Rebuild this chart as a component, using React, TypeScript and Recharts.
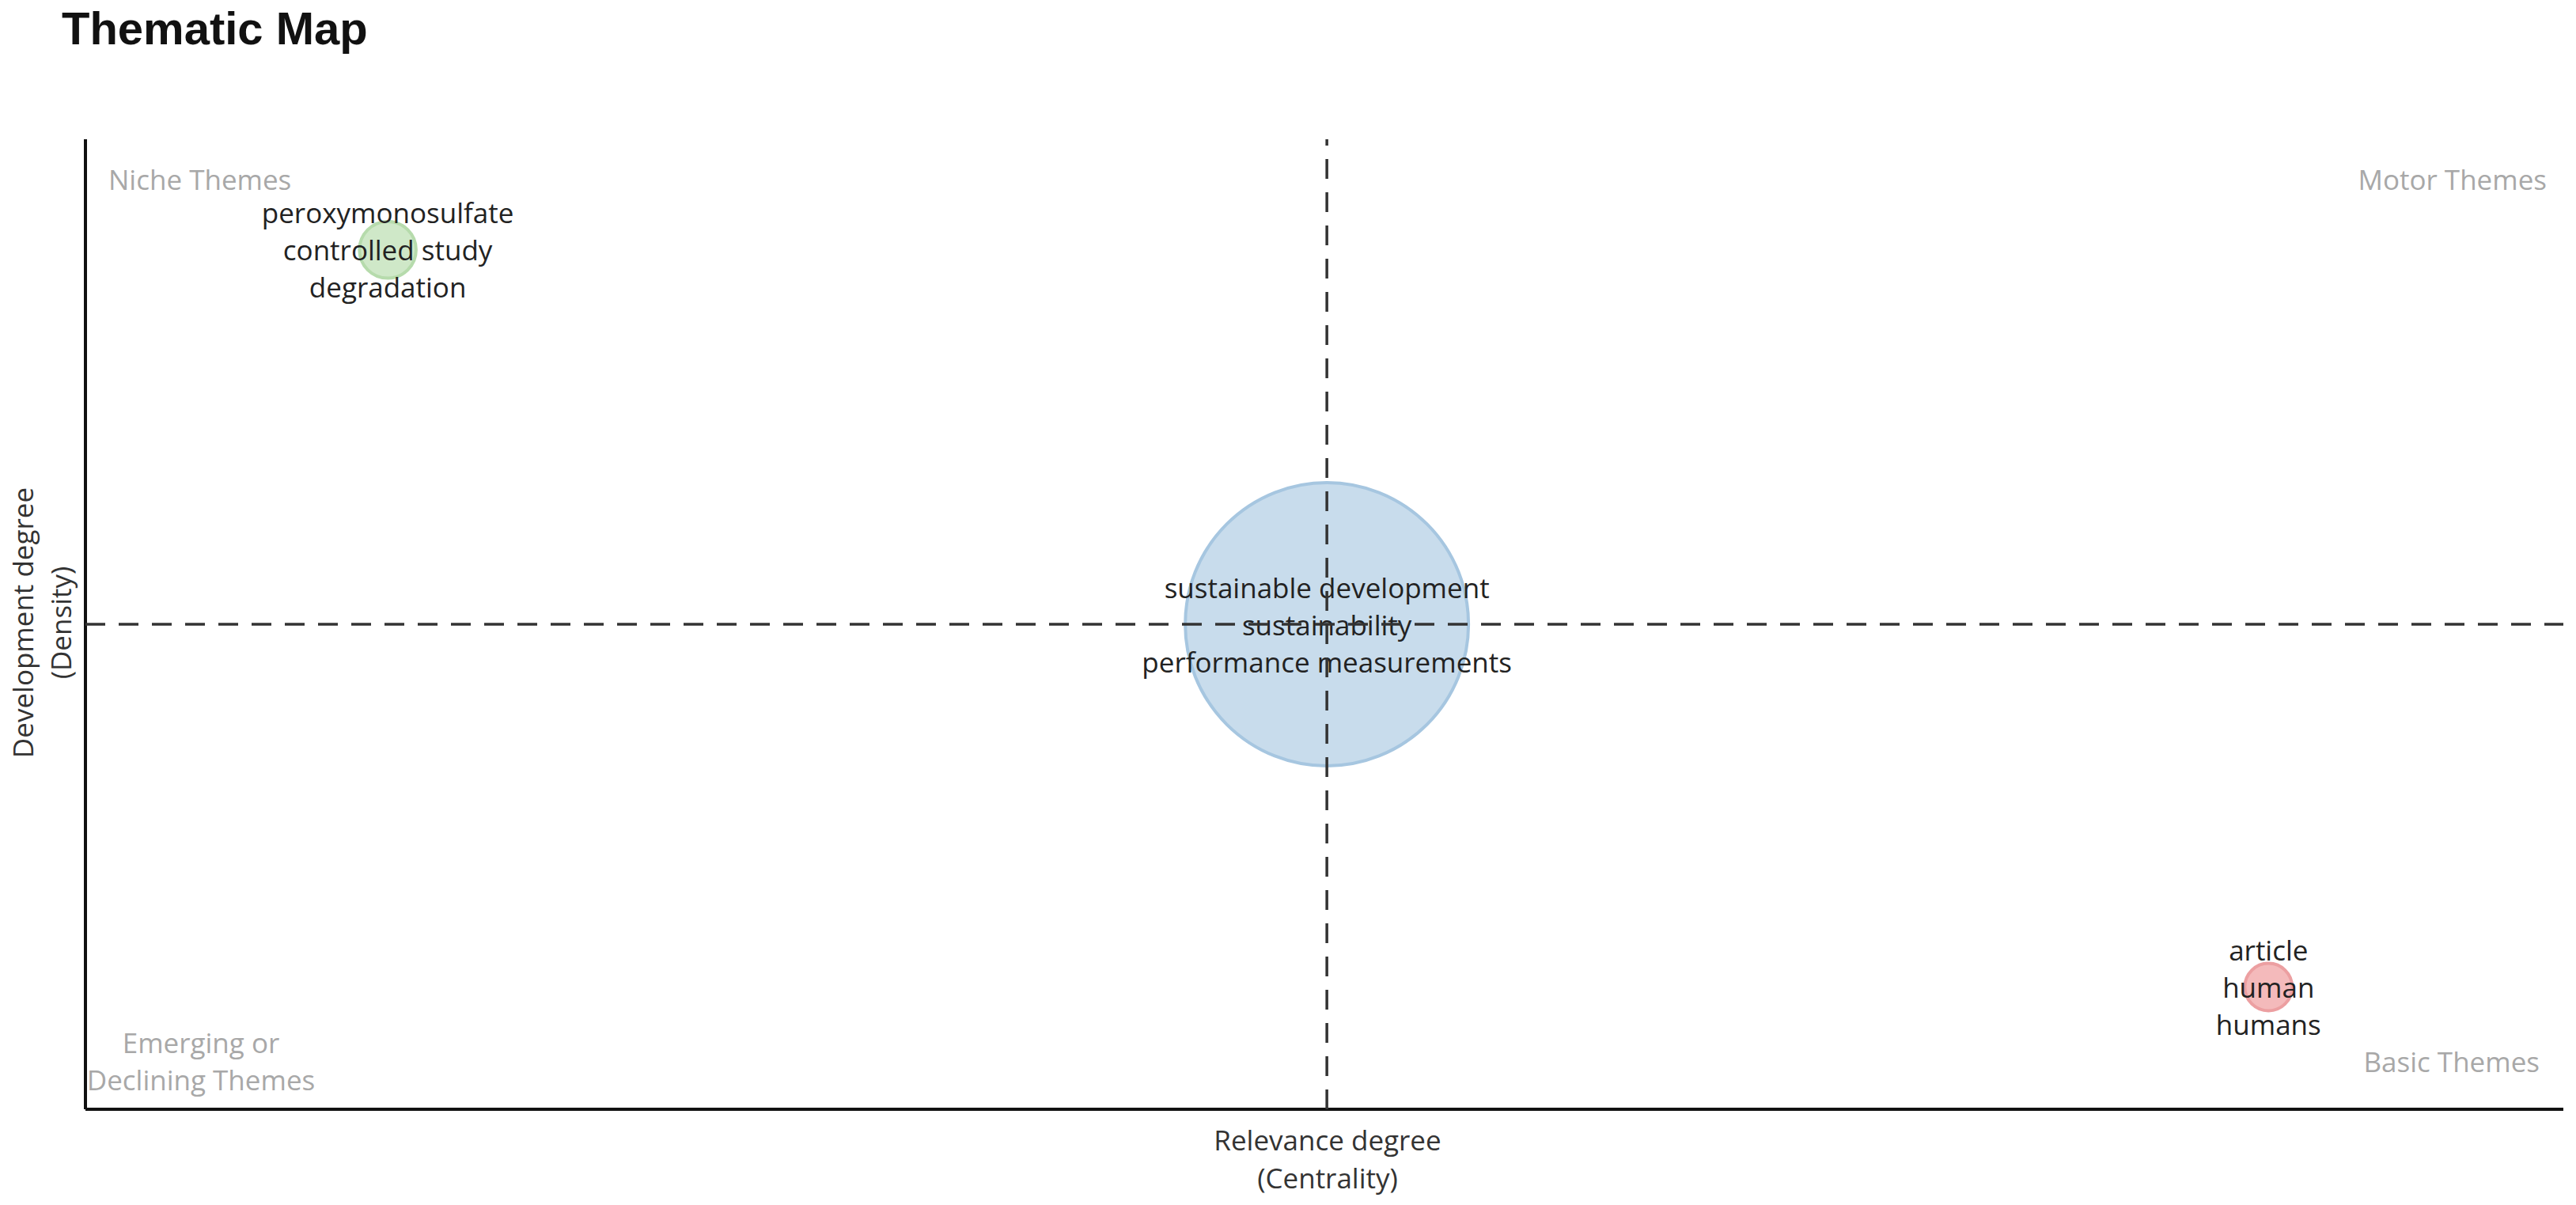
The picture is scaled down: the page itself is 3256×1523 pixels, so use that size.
import { ScatterChart, Scatter, XAxis, YAxis, ZAxis, Cell } from "recharts";

// thematic clusters (top 3 words per cluster)
const clusterWords = [
  ["peroxymonosulfate", "controlled study", "degradation"],
  ["sustainable development", "sustainability", "performance measurements"],
  ["article", "human", "humans"],
];
const centrality = [0.122, 0.501, 0.881];
const density = [0.886, 0.5, 0.126];
const frequency = [10, 250, 7];

// quadrant split lines
const centralityMid = 0.501;
const densityMid = 0.5;

const fills = ["#cfe8c8", "#c8dcec", "#f4babb"];
const strokes = ["#b6dbac", "#a6c6e0", "#ec9fa1"];

const data = clusterWords.map((words, i) => ({
  words,
  centrality: centrality[i],
  density: density[i],
  freq: frequency[i],
}));

const vSplit = [
  { centrality: centralityMid, density: 0 },
  { centrality: centralityMid, density: 1 },
];
const hSplit = [
  { centrality: 0, density: densityMid },
  { centrality: 1, density: densityMid },
];

const W = 3256;
const H = 1523;
const font = "'Open Sans', 'Noto Sans', sans-serif";

function Bubble(props: any) {
  const { cx, cy, size, fill, stroke, payload } = props;
  const r = Math.sqrt(size / Math.PI);
  const words: string[] = payload.words;
  return (
    <g>
      <circle cx={cx} cy={cy} r={r} fill={fill} stroke={stroke} strokeWidth={4} />
      {words.map((w, i) => (
        <text
          key={w}
          x={cx}
          y={cy + (i - 1) * 47}
          textAnchor="middle"
          dominantBaseline="central"
          fontFamily={font}
          fontSize={35}
          fill="#222"
        >
          {w}
        </text>
      ))}
    </g>
  );
}

const NoDot = () => null;
const dashLine = { stroke: "#333", strokeWidth: 3.5, strokeDasharray: "25 17" };

const quad = { position: "absolute" as const, fontFamily: font, fontSize: 35, color: "#a8a8a8", lineHeight: "47px" };
const axisTitle = { position: "absolute" as const, fontFamily: font, fontSize: 35, color: "#333", lineHeight: "48px", textAlign: "center" as const };

export default function App() {
  return (
    <div style={{ position: "absolute", left: 0, top: 0, width: W, height: H, background: "#fff" }}>
      <div
        style={{
          position: "absolute",
          left: 78,
          top: 0,
          fontFamily: "'Liberation Sans', Arial, sans-serif",
          fontWeight: "bold",
          fontSize: 58,
          lineHeight: "72px",
          color: "#111",
        }}
      >
        Thematic Map
      </div>

      <ScatterChart width={W} height={H} margin={{ top: 176, right: 16, bottom: 120, left: 107 }}>
        <XAxis
          type="number"
          dataKey="centrality"
          domain={[0, 1]}
          tick={false}
          tickLine={false}
          height={1}
          axisLine={{ stroke: "#111", strokeWidth: 4 }}
        />
        <YAxis
          type="number"
          dataKey="density"
          domain={[0, 1]}
          tick={false}
          tickLine={false}
          width={1}
          axisLine={{ stroke: "#111", strokeWidth: 4 }}
        />
        <ZAxis type="number" dataKey="freq" domain={[0, 250]} range={[0, 100660]} />
        <Scatter data={data} shape={<Bubble />} isAnimationActive={false}>
          {data.map((d, i) => (
            <Cell key={d.words[0]} fill={fills[i]} stroke={strokes[i]} />
          ))}
        </Scatter>
        <Scatter data={vSplit} shape={<NoDot />} line={dashLine} isAnimationActive={false} />
        <Scatter data={hSplit} shape={<NoDot />} line={dashLine} isAnimationActive={false} />
      </ScatterChart>

      <div style={{ ...quad, left: 137, top: 203 }}>Niche Themes</div>
      <div style={{ ...quad, right: 37, top: 203 }}>Motor Themes</div>
      <div style={{ ...quad, left: 104, top: 1294, width: 300, textAlign: "center" }}>
        Emerging or
        <br />
        Declining Themes
      </div>
      <div style={{ ...quad, right: 46, top: 1318 }}>Basic Themes</div>

      <div style={{ ...axisTitle, left: 1378, width: 600, top: 1417 }}>
        Relevance degree
        <br />
        (Centrality)
      </div>
      <div
        style={{
          ...axisTitle,
          left: 53 - 300,
          width: 600,
          top: 787 - 48,
          transform: "rotate(-90deg)",
          transformOrigin: "center center",
        }}
      >
        Development degree
        <br />
        (Density)
      </div>
    </div>
  );
}
